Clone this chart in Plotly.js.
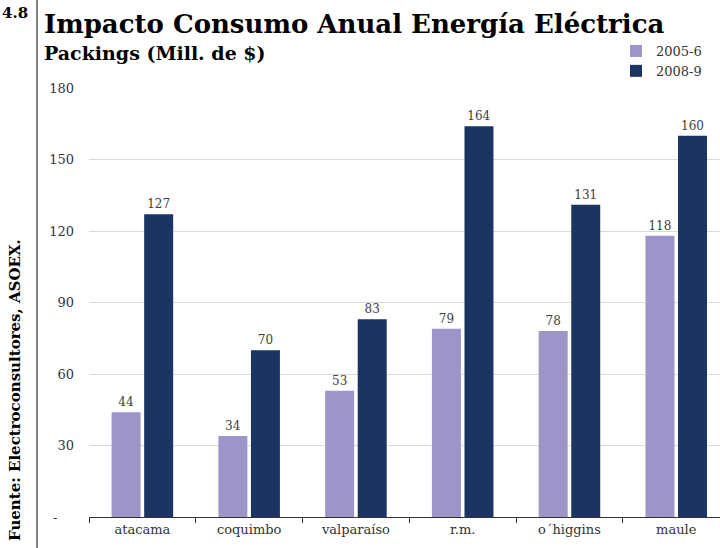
<!DOCTYPE html>
<html>
<head>
<meta charset="utf-8">
<script src="https://cdn.plot.ly/plotly-3.0.1.min.js"></script>
<style>
  html, body { margin: 0; padding: 0; background: #fff; }
  #chart { width: 720px; height: 548px; }
</style>
</head>
<body>
<div id="chart"></div>
<script>
// Regions and yearly electricity-cost impact (millions of $)
const regions = ["atacama", "coquimbo", "valparaíso", "r.m.", "o´higgins", "maule"];
const values2005 = [44, 34, 53, 79, 78, 118];
const values2008 = [127, 70, 83, 164, 131, 160];
const seriesNames = ["2005-6", "2008-9"];
const yTickVals = [0, 30, 60, 90, 120, 150, 180];
const yTickText = ["-\u00a0\u00a0\u00a0\u00a0", "30", "60", "90", "120", "150", "180"];

const serif = "DejaVu Serif, Liberation Serif, serif";
const W = 720, H = 548;
const M = { l: 89, r: 0, t: 88, b: 31 };
const pw = W - M.l - M.r, ph = H - M.t - M.b;
// pixel -> paper helpers for decorations around the plot
const px = x => (x - M.l) / pw;
const py = y => (H - M.b - y) / ph;

const traces = [
  {
    type: "bar", name: seriesNames[0], x: regions, y: values2005,
    marker: { color: "#9b95c8" },
    text: values2005.map(String), textposition: "outside", cliponaxis: false,
    textfont: { family: serif, size: 12, color: "#404040" }
  },
  {
    type: "bar", name: seriesNames[1], x: regions, y: values2008,
    marker: { color: "#1b3461" },
    text: values2008.map(String), textposition: "outside", cliponaxis: false,
    textfont: { family: serif, size: 12, color: "#404040" }
  }
];

const layout = {
  width: W, height: H,
  margin: M,
  paper_bgcolor: "#fff", plot_bgcolor: "#fff",
  barmode: "group", bargap: 0.39, bargroupgap: 0.11,
  font: { family: serif, size: 13, color: "#333" },
  showlegend: true,
  legend: {
    x: px(707), y: py(36), xanchor: "right", yanchor: "top",
    font: { family: serif, size: 13, color: "#333" },
    bgcolor: "rgba(0,0,0,0)", traceorder: "normal",
    itemwidth: 30, borderwidth: 0
  },
  xaxis: {
    range: [-0.5, 5.41], automargin: false,
    showgrid: false, showline: true, linecolor: "#333", linewidth: 1,
    ticks: "outside", tickson: "boundaries", ticklen: 5, tickcolor: "#333",
    tickfont: { family: serif, size: 13, color: "#333" },
    fixedrange: true
  },
  yaxis: {
    range: [0, 180], automargin: false,
    tickvals: yTickVals, ticktext: yTickText,
    showgrid: true, gridcolor: "#d9d9d9", gridwidth: 1,
    zeroline: false, showline: false, ticks: "",
    ticklabelstandoff: 14,
    tickfont: { family: serif, size: 13, color: "#333" },
    fixedrange: true
  },
  shapes: [
    { type: "line", xref: "paper", yref: "paper",
      x0: px(37), x1: px(37), y0: py(H), y1: py(0),
      line: { color: "#808080", width: 2 } }
  ],
  annotations: [
    { xref: "paper", yref: "paper", x: px(42), y: py(24), xanchor: "left", yanchor: "middle",
      text: "<b>Impacto Consumo Anual Energía Eléctrica</b>", showarrow: false,
      font: { family: serif, size: 26, color: "#000" } },
    { xref: "paper", yref: "paper", x: px(42), y: py(53), xanchor: "left", yanchor: "middle",
      text: "<b>Packings (Mill. de $)</b>", showarrow: false,
      font: { family: serif, size: 19, color: "#000" } },
    { xref: "paper", yref: "paper", x: px(0), y: py(13), xanchor: "left", yanchor: "middle",
      text: "<b>4.8</b>", showarrow: false,
      font: { family: serif, size: 15, color: "#000" } },
    { xref: "paper", yref: "paper", x: px(15), y: py(390), xanchor: "center", yanchor: "middle",
      text: "<b>Fuente: Electroconsultores, ASOEX.</b>", showarrow: false, textangle: -90,
      font: { family: serif, size: 15, color: "#000" } }
  ]
};

Plotly.newPlot("chart", traces, layout, { displayModeBar: false, staticPlot: true });
</script>
</body>
</html>
